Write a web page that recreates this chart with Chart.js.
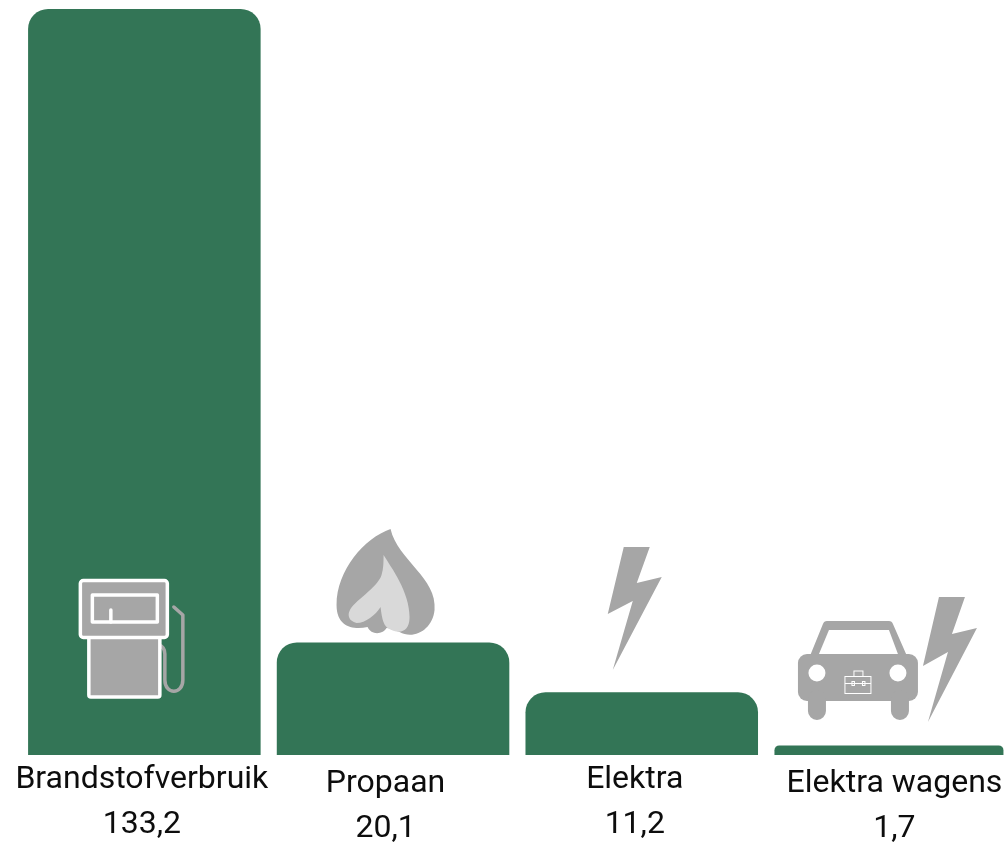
<!DOCTYPE html>
<html>
<head>
<meta charset="utf-8">
<script src="https://cdn.jsdelivr.net/npm/chart.js@4"></script>
<style>
    html, body { margin: 0; padding: 0; background: #fff; overflow: hidden; }
    #wrap { width: 1004px; height: 845px; overflow: hidden; }
    canvas { display: block; }
</style>
</head>
<body>
<div id="wrap"><canvas id="myChart" width="1040" height="845"></canvas></div>
<script>
const categories = ['Brandstofverbruik', 'Propaan', 'Elektra', 'Elektra wagens'];
const values = [133.2, 20.1, 11.2, 1.7];

const gray = '#a6a6a6';
const lightGray = '#d9d9d9';
const green = '#337556';

// tekst staat niet precies onder het midden van de balk
const labelShiftX = [-2.5, -7.5, -7, 4];
const labelShiftY = [0, 4, 0, 4];

function poly(c, pts, fill) {
    c.beginPath();
    pts.forEach(function (p, i) {
        if (i === 0) c.moveTo(p[0], p[1]); else c.lineTo(p[0], p[1]);
    });
    c.closePath();
    c.fillStyle = fill;
    c.fill();
}

function drawPump(c) {
    c.lineJoin = 'round';
    c.lineCap = 'round';
    // slang
    c.strokeStyle = gray;
    c.lineWidth = 3.5;
    c.beginPath();
    c.moveTo(174, 607);
    c.lineTo(183, 615);
    c.lineTo(183, 680);
    c.bezierCurveTo(183, 695, 165, 695, 165, 680);
    c.lineTo(165, 654);
    c.bezierCurveTo(165, 649, 162, 646, 159, 645);
    c.stroke();
    // onderkant
    c.strokeStyle = '#fff';
    c.lineWidth = 3.5;
    c.fillStyle = gray;
    c.beginPath();
    c.roundRect(89, 637, 71, 60, 2);
    c.fill();
    c.stroke();
    // bovenkant
    c.beginPath();
    c.roundRect(80.5, 580.5, 87, 57, 3);
    c.fill();
    c.stroke();
    c.strokeRect(92.5, 595, 65, 27);
    c.beginPath();
    c.moveTo(111, 610);
    c.lineTo(111, 622);
    c.stroke();
}

function drawFlame(c) {
    c.fillStyle = gray;
    c.beginPath();
    c.moveTo(391, 529);
    c.bezierCurveTo(398, 560, 438, 578, 435, 610);
    c.bezierCurveTo(433, 630, 414, 640, 400, 632);
    c.bezierCurveTo(394, 630, 390, 628, 387, 628);
    c.bezierCurveTo(384, 634, 372, 636, 368, 627);
    c.bezierCurveTo(355, 630, 337, 628, 337, 605);
    c.bezierCurveTo(337, 570, 365, 538, 391, 529);
    c.closePath();
    c.fill();
    c.fillStyle = lightGray;
    c.beginPath();
    c.moveTo(384, 555);
    c.bezierCurveTo(392, 568, 410, 592, 410, 617);
    c.bezierCurveTo(410, 634, 398, 634, 388, 628);
    c.bezierCurveTo(383, 624, 382, 615, 381, 607);
    c.bezierCurveTo(376, 615, 366, 623, 357, 623);
    c.bezierCurveTo(349, 621, 348, 615, 350, 611);
    c.bezierCurveTo(354, 601, 378, 588, 382, 575);
    c.bezierCurveTo(384, 568, 384, 562, 384, 555);
    c.closePath();
    c.fill();
}

function drawBolt(c) {
    poly(c, [[624, 547], [650, 547], [637, 583], [662, 577], [613, 670], [633, 601], [608, 614]], gray);
}

function drawCar(c) {
    poly(c, [[923, 666], [939, 597], [965, 597], [952, 634], [977, 628], [928, 722], [948, 652]], gray);
    c.fillStyle = gray;
    // dak en ruit
    c.beginPath();
    c.moveTo(810, 656);
    c.lineTo(823, 624);
    c.quadraticCurveTo(824, 621, 827, 621);
    c.lineTo(889, 621);
    c.quadraticCurveTo(892, 621, 893, 624);
    c.lineTo(907, 656);
    c.closePath();
    c.fill();
    poly(c, [[829, 630], [889, 630], [898, 654], [819, 654]], '#fff');
    c.fillStyle = gray;
    c.beginPath();
    c.roundRect(798, 654, 120, 47, 9);
    c.fill();
    c.beginPath();
    c.roundRect(808, 690, 18, 30, 9);
    c.roundRect(891, 690, 18, 30, 9);
    c.fill();
    // koplampen
    c.fillStyle = '#fff';
    c.beginPath();
    c.arc(817, 673, 8.5, 0, Math.PI * 2);
    c.arc(898, 673, 8.5, 0, Math.PI * 2);
    c.fill();
    // koffertje
    c.strokeStyle = '#fff';
    c.lineWidth = 1;
    c.strokeRect(845, 676.5, 26, 17);
    c.strokeRect(854, 671, 9, 5.5);
    c.beginPath();
    c.moveTo(845, 683.5);
    c.lineTo(871, 683.5);
    c.stroke();
    c.strokeRect(852, 681.5, 2.5, 4);
    c.strokeRect(862.5, 681.5, 2.5, 4);
}

const iconDrawers = [drawPump, drawFlame, drawBolt, drawCar];
// punten van de iconen zijn getekend voor deze balkmiddens en basislijn
const iconCenters = [144.5, 393.5, 642, 890.5];
const iconBase = 755;

const barExtras = {
    id: 'barExtras',
    beforeDatasetsDraw: function (chart) {
        // laatste balk is smaller en stopt aan de rand van het beeld
        const bar = chart.getDatasetMeta(0).data[3];
        const left = chart.scales.x.getPixelForValue(3) - 116;
        bar.width = 229;
        bar.x = left + bar.width / 2;
    },
    afterDatasetsDraw: function (chart) {
        const c = chart.ctx;
        const xs = chart.scales.x;
        const ys = chart.scales.y;
        categories.forEach(function (name, i) {
            const cx = xs.getPixelForValue(i);
            const base = ys.getPixelForValue(0);
            c.save();
            c.translate(cx - iconCenters[i], base - iconBase);
            iconDrawers[i](c);
            c.restore();

            c.save();
            c.font = '400 32px Roboto';
            c.fillStyle = '#0d0d0d';
            c.textAlign = 'center';
            c.textBaseline = 'alphabetic';
            c.fillText(name, cx + labelShiftX[i], base + 33 + labelShiftY[i]);
            c.fillText(String(values[i]).replace('.', ','), cx + labelShiftX[i], base + 78 + labelShiftY[i]);
            c.restore();
        });
    }
};

new Chart(document.querySelector('#myChart'), {
    type: 'bar',
    data: {
        labels: categories,
        datasets: [
            {
                data: values,
                backgroundColor: green,
                borderRadius: { topLeft: 20, topRight: 20 },
                borderSkipped: 'bottom',
                categoryPercentage: 1,
                barPercentage: 0.935
            }
        ]
    },
    options: {
        responsive: false,
        animation: false,
        layout: { padding: { left: 20, right: 25.2, top: 9, bottom: 90 } },
        plugins: { legend: { display: false }, tooltip: { enabled: false } },
        scales: {
            x: { display: false },
            y: { display: false, beginAtZero: true, min: 0, max: 133.2 }
        }
    },
    plugins: [barExtras]
});
</script>
</body>
</html>
